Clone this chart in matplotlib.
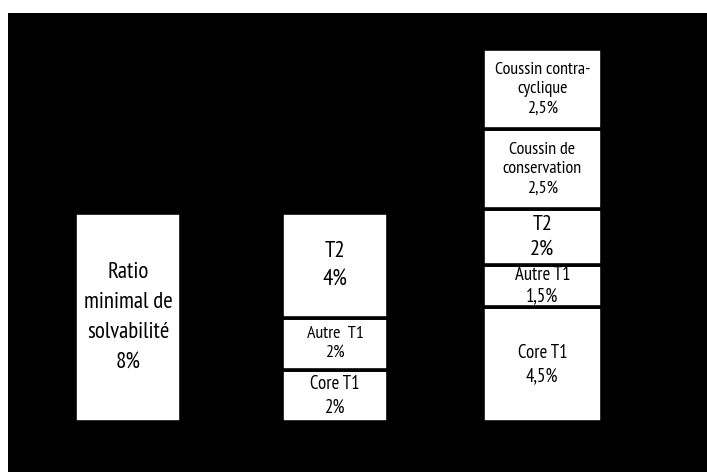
import matplotlib
matplotlib.use("Agg")
import matplotlib.pyplot as plt

# --- data (segment labels and drawn heights, in % units, bottom to top) ---
col0_labels = ["Ratio\nminimal de\nsolvabilité\n8%"]
col0_heights = [8.0]

col1_labels = ["Core T1\n2%", "Autre  T1\n2%", "T2\n4%"]
col1_heights = [2.0, 2.0, 4.0]

col2_labels = ["Core T1\n4,5%", "Autre T1\n1,5%", "T2\n2%",
               "Coussin de\nconservation\n2,5%", "Coussin contra-\ncyclique\n2,5%"]
col2_heights = [4.4, 1.63, 2.13, 3.07, 3.06]

columns = [col0_labels, col1_labels, col2_labels]
heights = [col0_heights, col1_heights, col2_heights]
positions = [0, 1, 2]

# --- styles ---
bar_widths = [0.51, 0.51, 0.573]
font_sizes = [
    [16.5],
    [13.5, 13, 16.5],
    [13.5, 13.5, 16, 13, 13],
]
line_sp = [
    [1.55],
    [1.38, 1.27, 1.42],
    [1.38, 1.25, 1.42, 1.27, 1.27],
]
FAMILY = ["PT Sans Narrow", "Carlito", "DejaVu Sans"]

fig = plt.figure(figsize=(7.07, 4.72), dpi=100, facecolor="white")
ax = fig.add_axes([8 / 707, 0, 699 / 707, 459 / 472])
ax.set_facecolor("black")

for x, labs, hs, w, fss, lss in zip(positions, columns, heights, bar_widths,
                                    font_sizes, line_sp):
    bottom = 0.0
    for lab, h, fs, ls in zip(labs, hs, fss, lss):
        ax.bar(x, h, width=w, bottom=bottom, color="white",
               edgecolor="black", linewidth=2.6)
        ax.text(x, bottom + h / 2, lab, ha="center", va="center",
                fontsize=fs, family=FAMILY, color="black", linespacing=ls)
        bottom += h

ax.set_xlim(-0.58, 2.795)
ax.set_ylim(-1.926, 15.68)
ax.set_xticks([])
ax.set_yticks([])
for s in ax.spines.values():
    s.set_visible(False)

fig.savefig("out.png", dpi=100, facecolor="white")
